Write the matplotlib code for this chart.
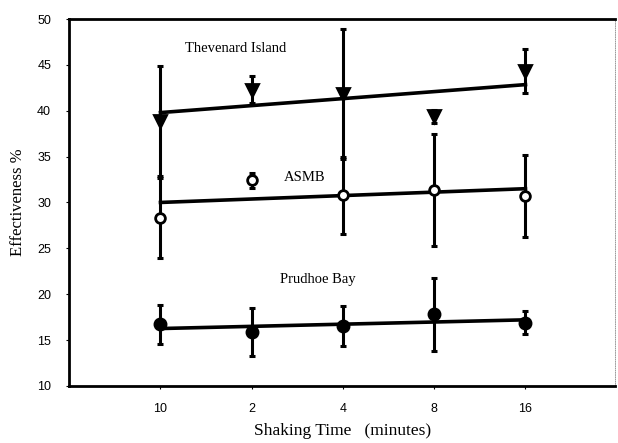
import matplotlib
matplotlib.use("Agg")
import matplotlib.pyplot as plt
import numpy as np

categories = ["10", "2", "4", "8", "16"]

thevenard = [38.9, 42.3, 41.8, 39.4, 44.3]
thevenard_err = [6.0, 1.5, 7.1, 0.7, 2.4]
thevenard_fit = [39.8, 42.85]

asmb = [28.3, 32.4, 30.8, 31.4, 30.7]
asmb_err = [4.4, 0.85, 4.2, 6.1, 4.5]
asmb_fit = [30.0, 31.5]

prudhoe = [16.7, 15.85, 16.5, 17.8, 16.9]
prudhoe_err = [2.1, 2.6, 2.2, 4.0, 1.25]
prudhoe_fit = [16.25, 17.2]

yticks = [10, 15, 20, 25, 30, 35, 40, 45, 50]

fig = plt.figure(figsize=(6.18, 4.43), dpi=100)
ax = fig.add_axes([0.112, 0.129, 0.883, 0.828])

x = np.arange(1, len(categories) + 1)
fit_x = [x[0], x[-1]]

serif = ["Liberation Serif", "DejaVu Serif"]
sans = ["Liberation Sans", "DejaVu Sans"]

def series(vals, errs, fit, marker, mfc, ms):
    ax.plot(fit_x, fit, color="black", lw=2.6, zorder=2)
    ax.errorbar(x, vals, yerr=errs, fmt="none", ecolor="black",
                elinewidth=2.2, capsize=2.5, capthick=2.2, zorder=3)
    ax.plot(x, vals, linestyle="none", marker=marker, ms=ms,
            mfc=mfc, mec="black", mew=2.0, zorder=4)

series(thevenard, thevenard_err, thevenard_fit, "v", "black", 8)
series(asmb, asmb_err, asmb_fit, "o", "white", 7)
series(prudhoe, prudhoe_err, prudhoe_fit, "o", "black", 8)

ax.text(1.82, 46.8, "Thevenard Island", fontsize=10.5, family=serif,
        ha="center", va="center")
ax.text(2.58, 32.75, "ASMB", fontsize=10.5, family=serif,
        ha="center", va="center")
ax.text(2.72, 21.6, "Prudhoe Bay", fontsize=10.5, family=serif,
        ha="center", va="center")

ax.set_xlim(0, 5.98)
ax.set_ylim(10, 50)
ax.set_xticks(x)
ax.set_xticklabels(categories, family=sans, fontsize=9)
ax.set_yticks(yticks)
ax.set_yticklabels([str(v) for v in yticks], family=sans, fontsize=9)
ax.tick_params(axis="both", direction="out", length=2, width=0.8)
ax.tick_params(axis="x", pad=10)
ax.tick_params(axis="y", pad=11)

for side in ["left", "top", "bottom"]:
    ax.spines[side].set_linewidth(2.0)
ax.spines["right"].set_linewidth(0.6)
ax.spines["right"].set_color("#888888")
ax.spines["right"].set_linestyle(":")

ax.set_xlabel("Shaking Time   (minutes)", family=serif, fontsize=12.5, labelpad=6)
ax.set_ylabel("Effectiveness %", family=serif, fontsize=12, labelpad=8)

fig.savefig("out.png", dpi=100)
